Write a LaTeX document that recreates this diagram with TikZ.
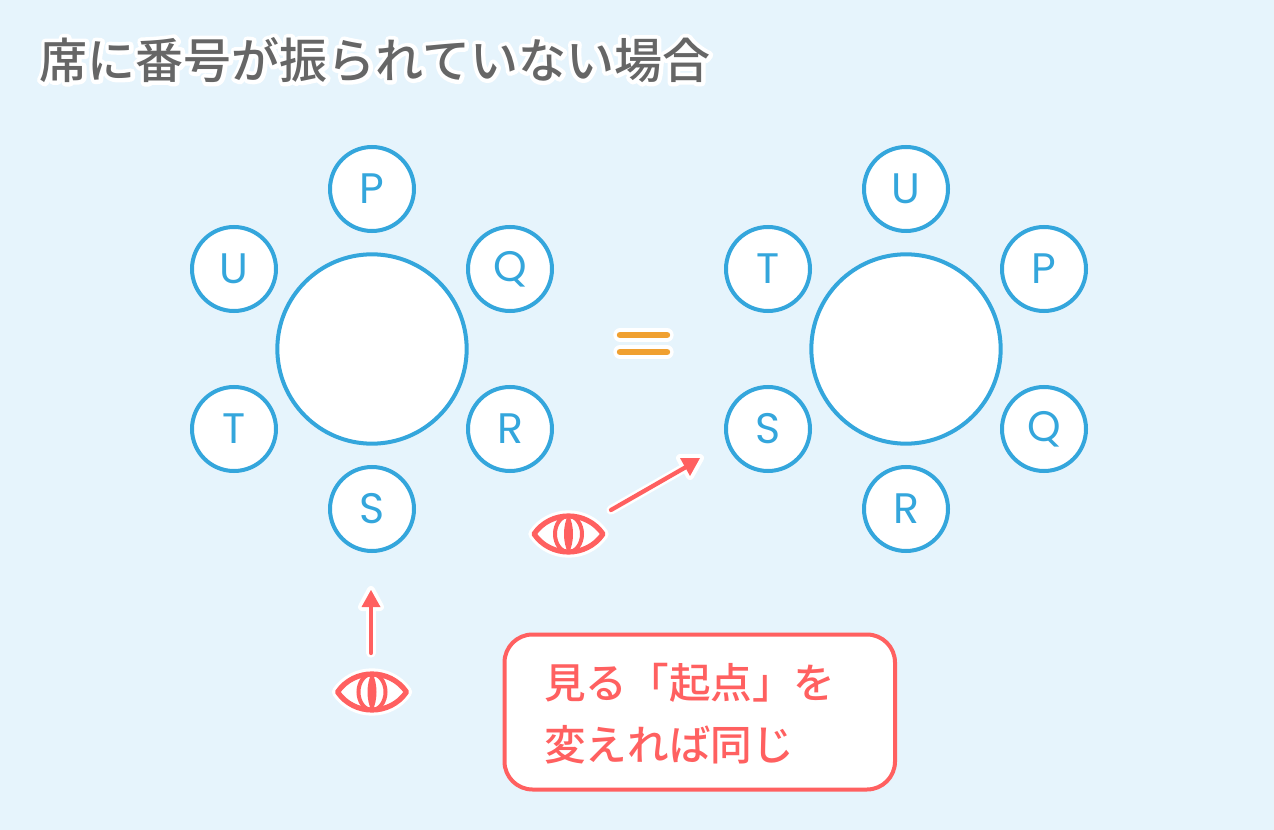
\documentclass[tikz,border=0pt]{standalone}
\usepackage{fontspec}
\newfontfamily\jpmed{Noto Sans CJK JP}[UprightFont=* Medium]
\newfontfamily\lat{Poppins}
\definecolor{bgc}{HTML}{E6F4FC}
\definecolor{blu}{HTML}{34A6DC}
\definecolor{red1}{HTML}{FF6060}
\definecolor{ora}{HTML}{F0A030}
\definecolor{gry}{HTML}{666666}
\newcommand{\halotxt}[1]{\rlap{\special{pdf:code q 1 1 1 RG 1 1 1 rg 6 w 1 j 2 Tr}\jpmed #1\special{pdf:code 0 Tr Q}}{\jpmed #1}}
\tikzset{
 x=0.75pt,y=-0.75pt,
 tbl/.style={circle,draw=blu,line width=3pt,fill=white,minimum size=142pt,inner sep=0pt},
 seat/.style={circle,draw=blu,line width=3pt,fill=white,minimum size=63pt,inner sep=0pt,text=blu,font=\lat\fontsize{32}{32}\selectfont},
 haloline/.style={white,line width=7pt,line cap=round},
 redline/.style={red1,line width=3.2pt,line cap=round},
 pics/eye/.style={code={
  \path[draw=white,line width=8.5pt,line join=round,fill=white] (-34.5,0) .. controls (-18,-24) and (18,-24) .. (34.5,0) .. controls (18,24) and (-18,24) .. (-34.5,0) -- cycle;
  \path[draw=red1,line width=3.9pt,line join=round] (-34.5,0) .. controls (-18,-24) and (18,-24) .. (34.5,0) .. controls (18,24) and (-18,24) .. (-34.5,0) -- cycle;
  \path[draw=red1,line width=3pt] (0,0) ellipse [x radius=13.5,y radius=18];
  \path[fill=red1] (0,-20) .. controls (-6,-8) and (-6,8) .. (0,20) .. controls (6,8) and (6,-8) .. (0,-20) -- cycle;
 }}
}
\begin{document}
\begin{tikzpicture}
\path[fill=bgc] (0,0) rectangle (1274,830);
\useasboundingbox (0,0) rectangle (1274,830);
\node[inner sep=0pt,anchor=west,text=gry,font=\fontsize{36}{36}\selectfont] (title) at (39.5,60) {\halotxt{席に番号が振られていない場合}};
% left table
\node[tbl] (tL) at (372,349) {};
\node[seat] (p1) at (372,189) {P};
\node[seat] (q1) at (510,269) {Q};
\node[seat] (r1) at (510,429) {R};
\node[seat] (s1) at (372,509) {S};
\node[seat] (t1) at (234,429) {T};
\node[seat] (u1) at (234,269) {U};
% right table
\node[tbl] (tR) at (906,349) {};
\node[seat] (u2) at (906,189) {U};
\node[seat] (p2) at (1044,269) {P};
\node[seat] (q2) at (1044,429) {Q};
\node[seat] (r2) at (906,509) {R};
\node[seat] (s2) at (768,429) {S};
\node[seat] (t2) at (768,269) {T};
% equals
\coordinate (e1a) at (620,335); \coordinate (e1b) at (667,335);
\coordinate (e2a) at (620,352); \coordinate (e2b) at (667,352);
\draw[white,line width=10pt,line cap=round] (e1a) -- (e1b);
\draw[white,line width=10pt,line cap=round] (e2a) -- (e2b);
\draw[ora,line width=4.8pt,line cap=round] (e1a) -- (e1b);
\draw[ora,line width=4.8pt,line cap=round] (e2a) -- (e2b);
% eyes
\pic at (372,692) {eye};
\pic at (568.5,534) {eye};
% arrows
\coordinate (a1s) at (371,653); \coordinate (a1e) at (371,590);
\coordinate (a2s) at (611,510); \coordinate (a2e) at (700,458);
\draw[haloline] (a1s) -- (371,605);
\path[fill=white,draw=white,line width=6pt,line join=round] (a1e) -- (380,607) -- (362,607) -- cycle;
\draw[redline] (a1s) -- (371,605);
\path[fill=red1] (a1e) -- (380.5,607) -- (361.5,607) -- cycle;
\draw[haloline] (a2s) -- (686,467);
\path[fill=white,draw=white,line width=6pt,line join=round] (a2e) -- (680,458) -- (690,476) -- cycle;
\draw[redline] (a2s) -- (686,467);
\path[fill=red1] (a2e) -- (680,458) -- (690,476) -- cycle;
% callout
\draw[red1,line width=3pt,fill=white,rounded corners=21pt] (504.5,634.5) rectangle (895,789.5);
\node[inner sep=0pt,anchor=west,text=red1,font=\jpmed\fontsize{31.2}{31.2}\selectfont] (l1) at (544,683) {見る「起点」を};
\node[inner sep=0pt,anchor=west,text=red1,font=\jpmed\fontsize{31.2}{31.2}\selectfont] (l2) at (544,745) {変えれば同じ};
\end{tikzpicture}
\end{document}
